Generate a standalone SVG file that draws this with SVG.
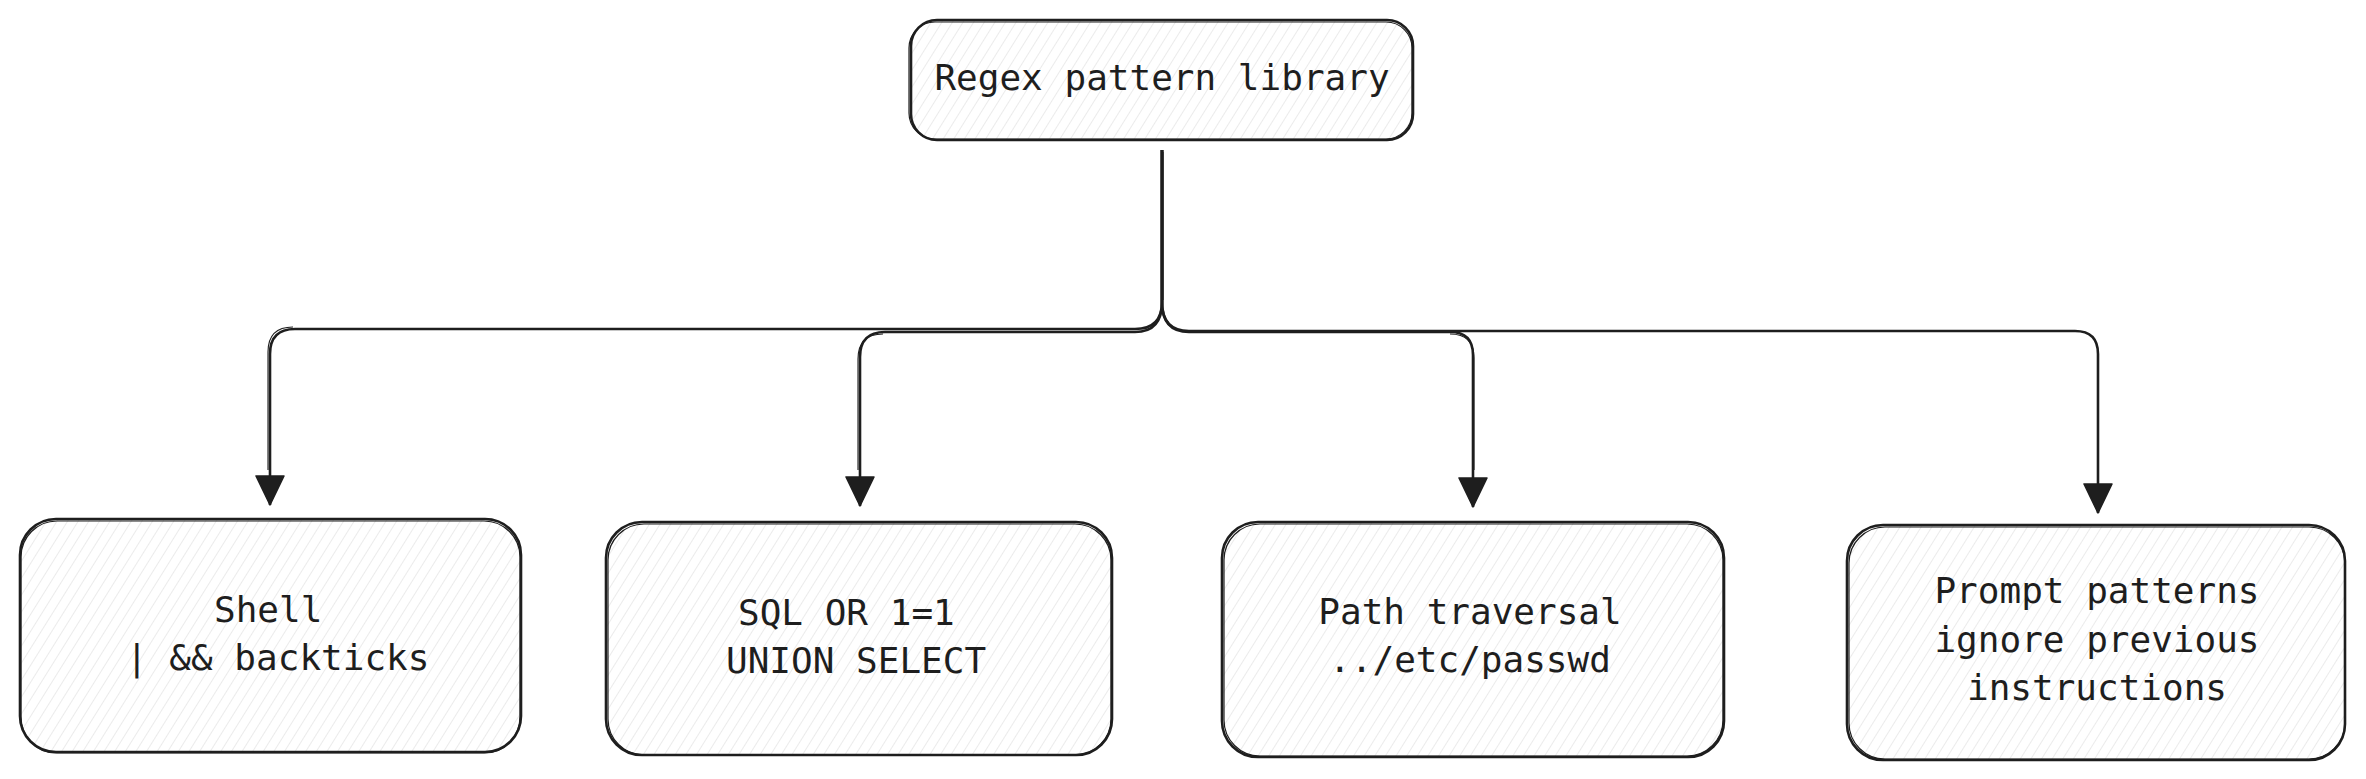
<svg xmlns="http://www.w3.org/2000/svg" width="2366" height="779" viewBox="0 0 2366 779">
<style>
  .box { fill: url(#hatch); stroke: #1e1e1e; stroke-width: 2.6; }
  .box2 { fill: none; stroke: #1e1e1e; stroke-width: 1.2; }
  .lbl { font-family: "DejaVu Sans Mono", "Liberation Mono", monospace; font-size: 36px; fill: #1e1e1e; }
  .conn { fill: none; stroke: #1e1e1e; stroke-width: 2.6; stroke-linejoin: round; }
  .conn2 { fill: none; stroke: #1e1e1e; stroke-width: 1.1; }
</style>
<defs>
  <pattern id="hatch" patternUnits="userSpaceOnUse" width="9" height="9" patternTransform="rotate(32)">
    <rect width="9" height="9" fill="#ffffff"/>
    <line x1="0" y1="0" x2="0" y2="9" stroke="#dcdcdc" stroke-width="1.1"/>
  </pattern>
  <marker id="arrow" markerUnits="userSpaceOnUse" markerWidth="32" markerHeight="30" viewBox="0 0 32 30" refX="30" refY="15" orient="auto">
    <path d="M1,1 L30,15 L1,29 Z" fill="#1e1e1e" stroke="#1e1e1e" stroke-width="1.5" stroke-linejoin="round"/>
  </marker>
</defs>
<rect width="2366" height="779" fill="#ffffff"/>

<g id="connectors">
  <path class="conn" d="M1162,150 L1162,302 Q1162,329 1135,329 L295,329 Q270,329 270,354 L270,505" marker-end="url(#arrow)"/>
  <path class="conn" d="M1162,150 L1162,302 Q1162,332 1135,332 L885,332 Q860,332 860,357 L860,506" marker-end="url(#arrow)"/>
  <path class="conn" d="M1162,150 L1162,302 Q1162,332 1189,332 L1450,332 Q1473,332 1473,355 L1473,507" marker-end="url(#arrow)"/>
  <path class="conn" d="M1162,150 L1162,302 Q1162,331 1189,331 L2075,331 Q2098,331 2098,354 L2098,513" marker-end="url(#arrow)"/>
  <path class="conn2" d="M1163,152 L1163,300 M293,327 Q268,327 268,352 L268,470 M883,334 Q858,334 858,359 L858,470 M1450,334 Q1474,334 1474,358 L1474,470"/>
</g>

<g id="node-regex">
  <rect class="box" x="911" y="20" width="502" height="120" rx="26"/>
  <rect class="box2" x="909" y="22" width="503" height="117" rx="26"/>
  <text class="lbl" x="1162" y="90" text-anchor="middle">Regex pattern library</text>
</g>

<g id="node-shell">
  <rect class="box" x="20" y="519" width="501" height="233" rx="36"/>
  <rect class="box2" x="21" y="521" width="499" height="232" rx="36"/>
  <text class="lbl" x="214" y="622">Shell</text>
  <text class="lbl" x="126" y="670">| &amp;&amp; backticks</text>
</g>

<g id="node-sql">
  <rect class="box" x="606" y="522" width="506" height="233" rx="36"/>
  <rect class="box2" x="608" y="524" width="503" height="231" rx="36"/>
  <text class="lbl" x="738" y="625">SQL OR 1=1</text>
  <text class="lbl" x="726" y="673">UNION SELECT</text>
</g>

<g id="node-path">
  <rect class="box" x="1222" y="522" width="502" height="235" rx="36"/>
  <rect class="box2" x="1224" y="524" width="499" height="232" rx="36"/>
  <text class="lbl" x="1470" y="624" text-anchor="middle">Path traversal</text>
  <text class="lbl" x="1470" y="672" text-anchor="middle">../etc/passwd</text>
</g>

<g id="node-prompt">
  <rect class="box" x="1847" y="525" width="498" height="235" rx="36"/>
  <rect class="box2" x="1849" y="527" width="496" height="232" rx="36"/>
  <text class="lbl" x="2097" y="603" text-anchor="middle">Prompt patterns</text>
  <text class="lbl" x="2097" y="652" text-anchor="middle">ignore previous</text>
  <text class="lbl" x="2097" y="700" text-anchor="middle">instructions</text>
</g>
</svg>
